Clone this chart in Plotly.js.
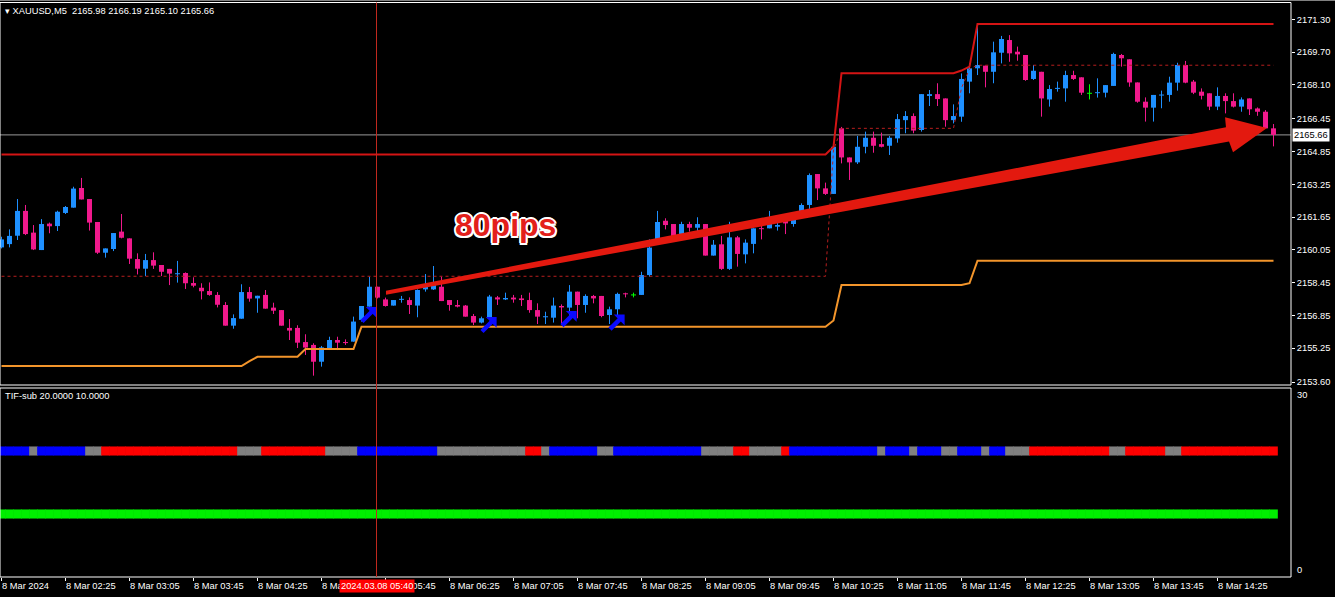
<!DOCTYPE html>
<html><head><meta charset="utf-8">
<script src="https://cdn.plot.ly/plotly-3.0.1.min.js"></script>
<style>html,body{margin:0;padding:0;background:#000;overflow:hidden}#chart{width:1335px;height:597px}</style>
</head><body><div id="chart"></div>
<script>
// ---------------- DATA ----------------
const symbol = 'XAUUSD,M5';
const opens = [2160.17,2160.33,2160.74,2161.95,2160.89,2160.04,2161.33,2161.21,2161.85,2162.11,
2163.07,2162.53,2161.41,2159.91,2160.09,2160.94,2160.61,2159.60,2159.13,2159.55,
2159.31,2159.12,2158.87,2158.92,2158.43,2158.20,2158.04,2157.85,2157.36,2156.35,
2156.69,2157.99,2157.68,2157.85,2157.23,2157.11,2156.24,2156.24,2155.55,2155.41,
2154.59,2155.24,2155.65,2155.55,2155.57,2156.63,2157.28,2158.25,2157.63,2157.33,
2157.62,2157.60,2157.33,2158.12,2158.12,2158.25,2157.60,2157.36,2157.33,2156.82,
2156.50,2156.71,2157.73,2157.63,2157.72,2157.68,2157.60,2157.11,2156.77,2156.74,
2157.31,2157.23,2158.01,2157.36,2157.80,2157.80,2156.87,2157.15,2157.93,2157.85,
2157.85,2158.82,2160.53,2161.47,2161.31,2160.77,2161.31,2161.13,2161.31,2159.77,
2160.32,2159.12,2160.66,2159.83,2160.34,2161.10,2161.10,2161.18,2161.51,2161.31,
2161.83,2162.24,2163.75,2163.05,2162.78,2165.98,2164.56,2164.32,2165.08,2165.52,
2165.21,2165.13,2165.49,2166.38,2166.58,2165.90,2167.56,2167.65,2167.44,2166.38,
2166.55,2168.26,2168.91,2169.04,2168.74,2169.67,2170.29,2169.72,2169.56,2168.39,
2168.74,2167.39,2167.91,2167.93,2168.58,2168.47,2167.69,2167.70,2167.72,2168.05,
2169.56,2169.35,2168.22,2167.28,2166.99,2167.59,2167.61,2168.21,2169.07,2168.26,
2167.77,2167.69,2167.04,2167.56,2167.31,2167.04,2167.44,2166.95,2166.79,2165.98];
const highs = [2160.69,2161.05,2162.53,2162.24,2161.26,2161.55,2161.38,2161.96,2162.19,2163.13,
2163.56,2162.53,2161.41,2160.12,2160.87,2161.80,2160.61,2159.88,2159.85,2159.93,
2159.31,2159.12,2159.51,2158.95,2158.71,2158.42,2158.46,2157.99,2157.50,2156.90,
2158.37,2158.24,2157.81,2158.09,2157.47,2157.11,2156.67,2156.37,2155.93,2155.49,
2155.36,2155.81,2155.81,2155.68,2156.79,2157.31,2158.74,2158.25,2157.72,2157.60,
2157.80,2157.73,2158.12,2158.87,2159.26,2158.74,2157.60,2157.60,2157.36,2156.92,
2156.79,2157.85,2157.80,2157.96,2157.85,2157.85,2157.96,2157.44,2157.03,2157.72,
2157.39,2158.33,2158.01,2157.88,2157.85,2157.80,2157.28,2157.96,2157.96,2157.96,
2158.98,2160.56,2161.95,2161.59,2161.31,2161.42,2161.42,2161.64,2161.31,2160.53,
2160.73,2161.42,2160.73,2160.56,2161.10,2161.26,2161.95,2161.59,2161.59,2161.86,
2162.32,2163.78,2163.75,2163.33,2165.08,2166.05,2164.56,2165.61,2165.82,2165.82,
2165.77,2165.61,2166.68,2166.82,2166.71,2167.65,2167.85,2168.18,2167.44,2167.15,
2168.66,2169.15,2171.05,2169.04,2170.21,2170.49,2170.53,2169.97,2169.56,2169.07,
2168.74,2168.09,2168.26,2168.79,2168.79,2168.47,2168.13,2168.42,2168.09,2169.67,
2169.61,2169.35,2168.22,2167.49,2167.61,2167.82,2168.50,2169.18,2169.27,2168.34,
2167.93,2167.69,2167.98,2167.69,2167.69,2167.49,2167.44,2167.00,2166.87,2166.19];
const lows = [2160.12,2160.17,2160.53,2160.77,2160.04,2160.04,2160.86,2160.97,2161.80,2162.11,
2162.51,2160.99,2159.85,2159.67,2159.99,2160.61,2159.36,2158.85,2158.77,2159.12,
2158.77,2158.33,2158.45,2158.14,2158.22,2157.63,2157.81,2157.24,2156.35,2156.20,
2156.69,2157.52,2156.98,2157.18,2156.92,2156.35,2155.65,2155.26,2154.92,2153.91,
2154.35,2155.16,2155.16,2155.41,2155.57,2156.55,2157.28,2157.68,2157.28,2157.33,
2157.47,2156.92,2156.76,2158.01,2158.09,2157.55,2157.08,2157.24,2156.79,2156.38,
2156.46,2156.71,2157.36,2157.60,2157.47,2157.31,2156.98,2156.43,2156.43,2156.50,
2156.38,2156.79,2156.71,2156.98,2157.44,2156.76,2156.43,2156.79,2157.73,2157.73,
2157.85,2158.74,2160.53,2161.05,2160.69,2160.69,2160.94,2160.94,2159.77,2159.77,
2159.07,2159.07,2159.23,2159.39,2159.88,2160.56,2161.10,2160.99,2160.82,2161.18,
2161.75,2161.99,2162.48,2162.73,2162.78,2164.27,2163.46,2164.24,2164.76,2164.79,
2165.05,2164.68,2165.28,2165.74,2165.74,2165.82,2167.07,2167.07,2166.06,2166.22,
2166.30,2167.69,2168.58,2167.98,2168.18,2169.15,2169.23,2169.28,2168.30,2168.34,
2166.55,2167.04,2167.77,2167.28,2168.34,2167.61,2167.39,2167.48,2167.49,2168.05,
2168.99,2168.01,2167.23,2166.31,2166.31,2166.96,2167.28,2167.82,2168.18,2167.65,
2167.39,2166.87,2166.87,2166.71,2167.00,2166.79,2166.63,2166.59,2165.98,2165.10];
const closes = [2160.56,2160.73,2161.95,2160.82,2160.07,2161.31,2161.20,2161.91,2162.14,2163.04,
2162.51,2161.38,2159.91,2160.12,2160.87,2160.64,2159.62,2159.13,2159.55,2159.28,
2158.98,2158.89,2158.90,2158.42,2158.30,2158.03,2157.85,2157.37,2156.35,2156.72,
2157.99,2157.67,2157.81,2157.18,2157.08,2156.35,2156.11,2155.52,2155.28,2154.59,
2155.29,2155.65,2155.52,2155.50,2156.55,2157.31,2158.25,2157.72,2157.31,2157.60,
2157.65,2157.36,2158.09,2158.25,2158.33,2157.55,2157.36,2157.28,2156.79,2156.50,
2156.71,2157.77,2157.63,2157.70,2157.63,2157.60,2157.11,2156.79,2156.80,2157.33,
2157.24,2158.01,2157.36,2157.80,2157.68,2156.82,2157.15,2157.90,2157.88,2157.85,
2158.82,2160.16,2161.41,2161.26,2160.69,2161.31,2161.13,2161.31,2159.77,2160.30,
2159.12,2160.66,2159.85,2160.40,2161.10,2161.07,2161.62,2161.26,2161.34,2161.83,
2162.24,2163.70,2163.05,2162.78,2165.08,2164.56,2164.32,2165.08,2165.52,2165.13,
2165.08,2165.52,2166.43,2166.58,2165.87,2167.65,2167.65,2167.41,2166.38,2166.58,
2168.39,2168.91,2169.07,2168.74,2169.69,2170.34,2169.64,2169.59,2168.34,2168.79,
2167.44,2167.90,2167.95,2168.58,2168.39,2167.72,2167.69,2167.74,2168.09,2169.61,
2169.40,2168.22,2167.28,2166.99,2167.61,2167.62,2168.21,2169.07,2168.21,2167.72,
2167.57,2167.04,2167.56,2167.31,2167.04,2167.39,2166.91,2166.79,2165.98,2165.66];

// time axis: one candle per 5 minutes starting 8 Mar 2024 01:45
const tickIdx = [0,8,16,24,32,40,48,56,64,72,80,88,96,104,112,120,128,136,144,152];
const tickLabels = ['8 Mar 2024','8 Mar 02:25','8 Mar 03:05','8 Mar 03:45','8 Mar 04:25','8 Mar 05:05',
'8 Mar 05:45','8 Mar 06:25','8 Mar 07:05','8 Mar 07:45','8 Mar 08:25','8 Mar 09:05','8 Mar 09:45',
'8 Mar 10:25','8 Mar 11:05','8 Mar 11:45','8 Mar 12:25','8 Mar 13:05','8 Mar 13:45','8 Mar 14:25'];
const priceTicks = [2153.60,2155.25,2156.85,2158.45,2160.05,2161.65,2163.25,2164.85,2166.45,2168.10,2169.70,2171.30];

// channel levels: [from candle index, value]
const upperLevels = [[0,2164.70],[104,2165.08],[105,2168.67],[120,2168.80],[121,2168.99],[122,2171.07]];
const midLevels   = [[0,2158.76],[104,2164.92],[105,2165.98],[120,2167.95],[121,2168.88],[122,2169.06]];
const lowerLevels = [[0,2154.38],[31,2154.62],[32,2154.83],[38,2155.21],[45,2156.30],[104,2156.60],[105,2158.33],[121,2158.42],[122,2159.52]];

// signal arrows (glyph centres)
const sigIdx = [46,61,71,77];
const sigPrice = [2156.92,2156.43,2156.72,2156.55];

// TIF-sub indicator: runs of [count, state]
const tifRuns = [[4,'B'],[1,'G'],[6,'B'],[2,'G'],[17,'R'],[3,'G'],[8,'R'],[4,'G'],[10,'B'],[11,'G'],[2,'R'],[1,'G'],[6,'B'],[2,'G'],[11,'B'],[4,'G'],[2,'R'],[4,'G'],[1,'R'],[11,'B'],[1,'G'],[3,'B'],[1,'G'],[3,'B'],[2,'G'],[3,'B'],[1,'G'],[2,'B'],[3,'G'],[10,'R'],[2,'G'],[5,'R'],[2,'G'],[12,'R']];
const tifLevel1 = 20, tifLevel2 = 10;
const crossIdx = 47;
const crossLabel = '2024.03.08 05:40';
const noteText = '80pips';

// ---------------- BUILD ----------------
const N = opens.length;
const idx = opens.map((_, i) => i);
const FONT = 'Liberation Sans, Arial, sans-serif';
const BULL = '#1e90ff', BEAR = '#f0198c', DOJI = '#00ff00';
const pxPerUnit = 8, pxPerPrice = 20.49;

function expand(levels) {
  const out = []; let k = 0;
  for (let i = 0; i < N; i++) { while (k + 1 < levels.length && levels[k + 1][0] <= i) k++; out.push(levels[k][1]); }
  return out;
}
const groups = {bull: [], bear: [], doji: []};
idx.forEach(i => {
  const o = opens[i], c = closes[i];
  groups[c > o ? 'bull' : (c < o ? 'bear' : 'doji')].push(i);
});
const colors = {bull: BULL, bear: BEAR, doji: DOJI};
const traces = [];
Object.keys(groups).forEach(g => {
  const ids = groups[g];
  const wx = [], wy = [];
  ids.forEach(i => { wx.push(i, i, null); wy.push(lows[i], highs[i], null); });
  traces.push({type: 'scatter', mode: 'lines', x: wx, y: wy, line: {color: colors[g], width: 1}, hoverinfo: 'skip', xaxis: 'x', yaxis: 'y'});
  const minH = 0.05;
  traces.push({type: 'bar', x: ids,
    base: ids.map(i => { const lo = Math.min(opens[i], closes[i]), h = Math.abs(closes[i] - opens[i]); return h < minH ? (lo + h / 2 - minH / 2) : lo; }),
    y: ids.map(i => Math.max(Math.abs(closes[i] - opens[i]), minH)),
    width: 0.625, marker: {color: colors[g], line: {width: 0}}, hoverinfo: 'skip', xaxis: 'x', yaxis: 'y'});
});
traces.push({type: 'scatter', mode: 'lines', x: idx, y: expand(lowerLevels), line: {color: '#f3952b', width: 2}, hoverinfo: 'skip'});
traces.push({type: 'scatter', mode: 'lines', x: idx, y: expand(midLevels), line: {color: '#b81e1e', width: 1, dash: '3px,3px'}, hoverinfo: 'skip'});
traces.push({type: 'scatter', mode: 'lines', x: idx, y: expand(upperLevels), line: {color: '#d41414', width: 2}, hoverinfo: 'skip'});

// signal arrow glyphs: thick shaft + arrow head pointing up-right
const SIG = '#0a0aff';
traces.push({type: 'scatter', mode: 'markers', x: sigIdx.map(v => v - 2 / pxPerUnit), y: sigPrice.map(v => v - 2 / pxPerPrice),
  marker: {symbol: 'line-ne', size: 11, line: {color: SIG, width: 4.5}}, hoverinfo: 'skip'});
traces.push({type: 'scatter', mode: 'markers', x: sigIdx.map(v => v + 3.5 / pxPerUnit), y: sigPrice.map(v => v + 3.5 / pxPerPrice),
  marker: {symbol: 'triangle-ne', size: 12, color: SIG, line: {width: 0}}, hoverinfo: 'skip'});

// sub window
const tifColorMap = {B: '#0000ff', G: '#808080', R: '#ff0000'};
const tifStates = [];
tifRuns.forEach(([n, s]) => { for (let k = 0; k < n; k++) tifStates.push(s); });
const barH = 1.44;
traces.push({type: 'bar', x: idx, base: idx.map(() => tifLevel1 - barH / 2), y: idx.map(() => barH), width: 1.08,
  marker: {color: tifStates.map(s => tifColorMap[s]), line: {width: 0}}, hoverinfo: 'skip', xaxis: 'x', yaxis: 'y2'});
traces.push({type: 'bar', x: idx, base: idx.map(() => tifLevel2 - barH / 2), y: idx.map(() => barH), width: 1.08,
  marker: {color: '#00ee00', line: {width: 0}}, hoverinfo: 'skip', xaxis: 'x', yaxis: 'y2'});

// geometry
const Wd = 1335, Ht = 597, mT = 3, mB = 20, mR = 44;
const plotH = Ht - mT - mB;
const py = p => (Ht - mB - p) / plotH;   // pixel row -> paper y
const mainDom = [py(385), 1];
const subDom = [0, py(388)];
const xr0 = -0.1875, xr1 = xr0 + (Wd - mR) / pxPerUnit;

const last = N - 1;
const header = '▾ ' + symbol + '  ' + [opens[last], highs[last], lows[last], closes[last]].map(v => v.toFixed(2)).join(' ');

const arrowOutline = [[48.06, 2158.05], [153.06, 2166.03], [152.94, 2166.52], [158.19, 2166.00], [153.94, 2164.81], [153.44, 2165.34], [48.06, 2157.86]];
const arrowPath = 'M' + arrowOutline.map(p => p[0] + ',' + p[1]).join(' L') + ' Z';

const white = '#ffffff';
const layout = {
  width: Wd, height: Ht,
  margin: {l: 0, r: mR, t: mT, b: mB, pad: 0},
  paper_bgcolor: '#000', plot_bgcolor: '#000',
  showlegend: false, hovermode: false, barmode: 'overlay',
  font: {family: FONT, size: 9.3, color: white},
  xaxis: {range: [xr0, xr1], anchor: 'y2', showgrid: false, zeroline: false, showline: false,
    tickmode: 'array', tickvals: tickIdx, ticktext: tickLabels, ticks: 'outside', ticklen: 3, tickcolor: white,
    ticklabelposition: 'outside right', tickfont: {family: FONT, size: 9.3, color: white}},
  yaxis: {domain: mainDom, range: [2153.454, 2172.097], side: 'right', showgrid: false, zeroline: false,
    tickmode: 'array', tickvals: priceTicks, ticktext: priceTicks.map(v => v.toFixed(2)), ticks: 'outside', ticklen: 3,
    tickcolor: white, tickfont: {family: FONT, size: 9.3, color: white}},
  yaxis2: {domain: subDom, range: [0, 30], side: 'right', showgrid: false, zeroline: false, showticklabels: false, ticks: ''},
  shapes: [
    {type: 'line', xref: 'paper', yref: 'paper', x0: 0, x1: 1.04, y0: py(0.5), y1: py(0.5), line: {color: '#808080', width: 1}},
    {type: 'rect', xref: 'paper', yref: 'paper', x0: 0, x1: 1, y0: mainDom[0], y1: py(2.5), line: {color: white, width: 1}},
    {type: 'rect', xref: 'paper', yref: 'paper', x0: 0, x1: 1, y0: 0, y1: subDom[1], line: {color: white, width: 1}},
    {type: 'line', xref: 'paper', yref: 'y', x0: 0, x1: 1, y0: closes[last], y1: closes[last], line: {color: '#9a9a9a', width: 1}, layer: 'below'},
    {type: 'line', xref: 'x', yref: 'paper', x0: crossIdx - 0.125, x1: crossIdx - 0.125, y0: 0, y1: py(2.5), line: {color: '#c0281e', width: 1}},
    {type: 'path', xref: 'x', yref: 'y', path: arrowPath, fillcolor: '#e3190f', line: {width: 0}}
  ],
  annotations: [
    {xref: 'paper', yref: 'paper', x: 0, y: py(11), xanchor: 'left', yanchor: 'middle', xshift: 3, showarrow: false,
      text: header, font: {family: FONT, size: 9.3, color: white}},
    {xref: 'paper', yref: 'paper', x: 0, y: py(396), xanchor: 'left', yanchor: 'middle', xshift: 3, showarrow: false,
      text: 'TIF-sub ' + tifLevel1.toFixed(4) + ' ' + tifLevel2.toFixed(4), font: {family: FONT, size: 9.3, color: white}},
    {xref: 'paper', yref: 'paper', x: 1, y: py(395), xanchor: 'left', yanchor: 'middle', xshift: 4, showarrow: false,
      text: '30', font: {family: FONT, size: 9.3, color: white}},
    {xref: 'paper', yref: 'paper', x: 1, y: py(570), xanchor: 'left', yanchor: 'middle', xshift: 4, showarrow: false,
      text: '0', font: {family: FONT, size: 9.3, color: white}},
    {xref: 'paper', yref: 'y', x: 1, y: closes[last], xanchor: 'left', yanchor: 'middle', xshift: 1, showarrow: false,
      text: closes[last].toFixed(2), bgcolor: white, borderpad: 1, font: {family: FONT, size: 9.3, color: '#000'}},
    {xref: 'x', yref: 'paper', x: crossIdx - 0.125, y: py(585.5), xanchor: 'center', yanchor: 'middle', showarrow: false,
      text: crossLabel, bgcolor: '#ff0000', borderpad: 1, font: {family: FONT, size: 9.3, color: white}},
    {xref: 'x', yref: 'y', x: 63.06, y: 2161.25, xanchor: 'center', yanchor: 'middle', showarrow: false,
      text: noteText, font: {family: FONT, size: 32, color: '#e3201b', weight: 'bold',
        shadow: '2px 0 0 #fff, -2px 0 0 #fff, 0 2px 0 #fff, 0 -2px 0 #fff, 1.5px 1.5px 0 #fff, -1.5px -1.5px 0 #fff, 1.5px -1.5px 0 #fff, -1.5px 1.5px 0 #fff'}}
  ]
};
Plotly.newPlot('chart', traces, layout, {staticPlot: true, displayModeBar: false});
</script>
</body></html>
